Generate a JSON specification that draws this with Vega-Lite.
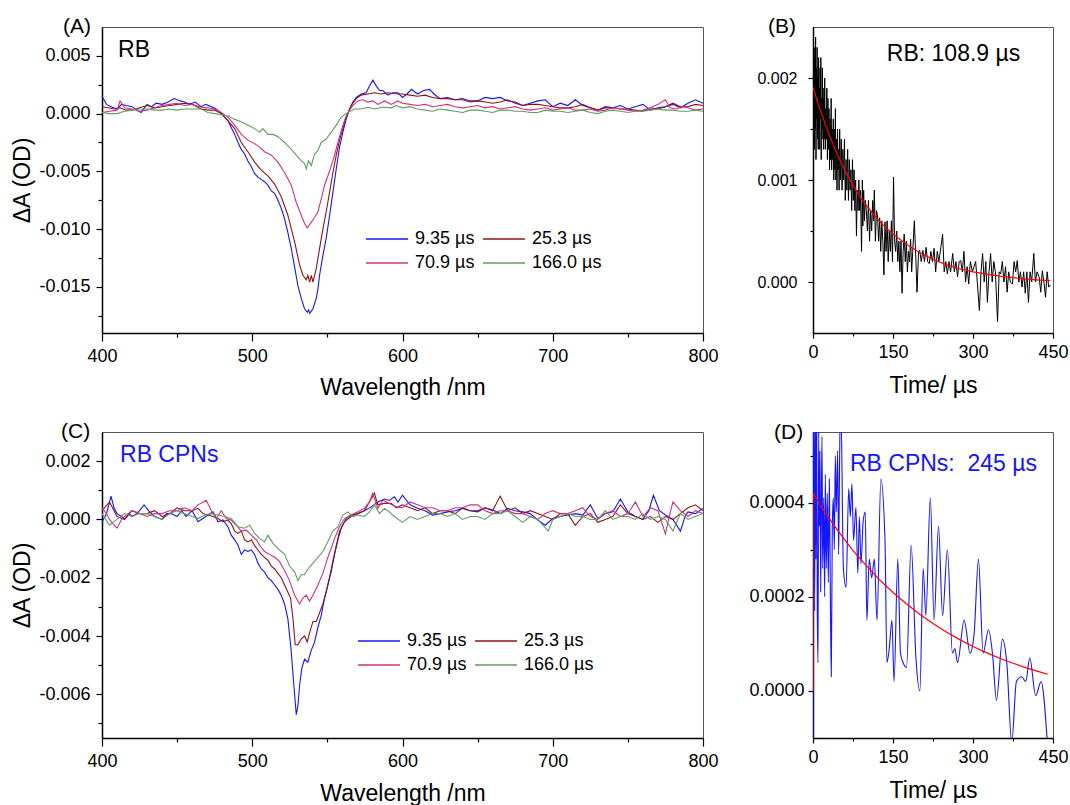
{
  "$schema": "https://vega.github.io/schema/vega-lite/v6.json",
  "background": "white",
  "padding": {"left": 11, "top": 15, "right": 0, "bottom": 0},
  "columns": 2,
  "bounds": "flush",
  "spacing": {"row": 99, "column": 110},
  "resolve": {"scale": {"color": "independent"}},
  "config": {
    "locale": {"number": {"decimal": ".", "thousands": ",", "grouping": [3], "currency": ["$", ""], "minus": "-"}},
    "view": {"stroke": "#555", "strokeWidth": 1},
    "axis": {"grid": false, "domainColor": "#000", "domainWidth": 1.5, "tickColor": "#000", "tickWidth": 1.2, "labelColor": "#000", "titleColor": "#000", "labelFont": "Liberation Sans", "titleFont": "Liberation Sans", "labelFontSize": 18, "titleFontSize": 23, "titleFontWeight": "normal", "labelFlush": false, "labelOverlap": false, "labelBound": false, "tickCount": 30},
    "legend": {"orient": "none", "columns": 2, "direction": "horizontal", "symbolType": "M-4,0H4", "symbolSize": 110, "symbolStrokeWidth": 1.5, "labelFont": "Liberation Sans", "labelFontSize": 18, "labelColor": "#000", "columnPadding": 5, "rowPadding": 6, "labelOffset": 19, "padding": 0},
    "title": {"font": "Liberation Sans", "fontSize": 21, "fontWeight": "normal", "anchor": "start", "frame": "group", "baseline": "alphabetic", "offset": 0, "dy": 14, "color": "#000"},
    "text": {"font": "Liberation Sans"}
  },
  "datasets": {
    "A": [
      {"s":"9.35 µs","x":400,"y":0.0015},{"s":"9.35 µs","x":403,"y":0.0008},{"s":"9.35 µs","x":406,"y":0.0006},{"s":"9.35 µs","x":410,"y":0.0004},{"s":"9.35 µs","x":413,"y":0.0008},{"s":"9.35 µs","x":416,"y":0.0007},{"s":"9.35 µs","x":420,"y":0.0006},{"s":"9.35 µs","x":423,"y":0.0003},{"s":"9.35 µs","x":426,"y":0.0001},{"s":"9.35 µs","x":430,"y":0.0008},{"s":"9.35 µs","x":433,"y":0.0006},{"s":"9.35 µs","x":436,"y":0.0009},{"s":"9.35 µs","x":440,"y":0.0008},{"s":"9.35 µs","x":444,"y":0.001},{"s":"9.35 µs","x":448,"y":0.0013},{"s":"9.35 µs","x":452,"y":0.0011},{"s":"9.35 µs","x":455,"y":0.001},{"s":"9.35 µs","x":458,"y":0.0008},{"s":"9.35 µs","x":462,"y":0.001},{"s":"9.35 µs","x":466,"y":0.0006},{"s":"9.35 µs","x":469,"y":0.0008},{"s":"9.35 µs","x":473,"y":0.0006},{"s":"9.35 µs","x":476,"y":0.0004},{"s":"9.35 µs","x":479.4,"y":0.0},{"s":"9.35 µs","x":481.5,"y":-0.0003},{"s":"9.35 µs","x":483.8,"y":-0.0006},{"s":"9.35 µs","x":486,"y":-0.0012},{"s":"9.35 µs","x":488.3,"y":-0.0018},{"s":"9.35 µs","x":490.5,"y":-0.0025},{"s":"9.35 µs","x":492.7,"y":-0.0031},{"s":"9.35 µs","x":494.9,"y":-0.0035},{"s":"9.35 µs","x":497.1,"y":-0.0041},{"s":"9.35 µs","x":499.4,"y":-0.0046},{"s":"9.35 µs","x":501.6,"y":-0.0052},{"s":"9.35 µs","x":503.8,"y":-0.0055},{"s":"9.35 µs","x":506,"y":-0.0057},{"s":"9.35 µs","x":508.2,"y":-0.0059},{"s":"9.35 µs","x":510.4,"y":-0.0062},{"s":"9.35 µs","x":512.7,"y":-0.0067},{"s":"9.35 µs","x":514.9,"y":-0.0069},{"s":"9.35 µs","x":517.1,"y":-0.0075},{"s":"9.35 µs","x":519.3,"y":-0.0082},{"s":"9.35 µs","x":521.5,"y":-0.0091},{"s":"9.35 µs","x":523.7,"y":-0.0103},{"s":"9.35 µs","x":526,"y":-0.0117},{"s":"9.35 µs","x":528.2,"y":-0.0133},{"s":"9.35 µs","x":530.4,"y":-0.0149},{"s":"9.35 µs","x":532.6,"y":-0.016},{"s":"9.35 µs","x":534.8,"y":-0.0169},{"s":"9.35 µs","x":536.6,"y":-0.0172},{"s":"9.35 µs","x":537.5,"y":-0.017},{"s":"9.35 µs","x":538.2,"y":-0.0173},{"s":"9.35 µs","x":539.3,"y":-0.0171},{"s":"9.35 µs","x":540.4,"y":-0.0169},{"s":"9.35 µs","x":542.6,"y":-0.016},{"s":"9.35 µs","x":543.7,"y":-0.0152},{"s":"9.35 µs","x":544.8,"y":-0.014},{"s":"9.35 µs","x":547,"y":-0.0123},{"s":"9.35 µs","x":549.2,"y":-0.0108},{"s":"9.35 µs","x":551.5,"y":-0.0088},{"s":"9.35 µs","x":553.7,"y":-0.0068},{"s":"9.35 µs","x":555.9,"y":-0.0048},{"s":"9.35 µs","x":558.1,"y":-0.0029},{"s":"9.35 µs","x":560.3,"y":-0.0016},{"s":"9.35 µs","x":562.5,"y":-0.0005},{"s":"9.35 µs","x":564.8,"y":0.0004},{"s":"9.35 µs","x":567,"y":0.001},{"s":"9.35 µs","x":569.2,"y":0.0014},{"s":"9.35 µs","x":572.5,"y":0.0017},{"s":"9.35 µs","x":575.8,"y":0.0018},{"s":"9.35 µs","x":578,"y":0.0024},{"s":"9.35 µs","x":580.3,"y":0.0029},{"s":"9.35 µs","x":582.5,"y":0.0024},{"s":"9.35 µs","x":584.7,"y":0.002},{"s":"9.35 µs","x":586.9,"y":0.002},{"s":"9.35 µs","x":590.2,"y":0.0016},{"s":"9.35 µs","x":593.6,"y":0.0018},{"s":"9.35 µs","x":596.9,"y":0.0018},{"s":"9.35 µs","x":600,"y":0.0014},{"s":"9.35 µs","x":603,"y":0.0017},{"s":"9.35 µs","x":606,"y":0.0021},{"s":"9.35 µs","x":610,"y":0.0017},{"s":"9.35 µs","x":614,"y":0.002},{"s":"9.35 µs","x":618,"y":0.0021},{"s":"9.35 µs","x":621,"y":0.0017},{"s":"9.35 µs","x":625,"y":0.0013},{"s":"9.35 µs","x":630,"y":0.0014},{"s":"9.35 µs","x":635,"y":0.0012},{"s":"9.35 µs","x":640,"y":0.0013},{"s":"9.35 µs","x":645,"y":0.0011},{"s":"9.35 µs","x":650,"y":0.0011},{"s":"9.35 µs","x":655,"y":0.0014},{"s":"9.35 µs","x":660,"y":0.0013},{"s":"9.35 µs","x":665,"y":0.0014},{"s":"9.35 µs","x":670,"y":0.0011},{"s":"9.35 µs","x":675,"y":0.001},{"s":"9.35 µs","x":680,"y":0.0007},{"s":"9.35 µs","x":685,"y":0.0009},{"s":"9.35 µs","x":690,"y":0.0011},{"s":"9.35 µs","x":695,"y":0.0012},{"s":"9.35 µs","x":700,"y":0.0006},{"s":"9.35 µs","x":705,"y":0.0009},{"s":"9.35 µs","x":710,"y":0.0007},{"s":"9.35 µs","x":715,"y":0.0012},{"s":"9.35 µs","x":720,"y":0.0007},{"s":"9.35 µs","x":725,"y":0.0005},{"s":"9.35 µs","x":730,"y":0.0003},{"s":"9.35 µs","x":735,"y":0.0006},{"s":"9.35 µs","x":740,"y":0.0005},{"s":"9.35 µs","x":745,"y":0.0007},{"s":"9.35 µs","x":750,"y":0.0004},{"s":"9.35 µs","x":755,"y":0.0006},{"s":"9.35 µs","x":760,"y":0.0008},{"s":"9.35 µs","x":765,"y":0.0003},{"s":"9.35 µs","x":770,"y":0.0005},{"s":"9.35 µs","x":775,"y":0.0006},{"s":"9.35 µs","x":780,"y":0.0008},{"s":"9.35 µs","x":785,"y":0.0005},{"s":"9.35 µs","x":790,"y":0.0009},{"s":"9.35 µs","x":795,"y":0.0012},{"s":"9.35 µs","x":800,"y":0.0009},
      {"s":"25.3 µs","x":400,"y":0.0006},{"s":"25.3 µs","x":404,"y":0.0005},{"s":"25.3 µs","x":408,"y":0.0004},{"s":"25.3 µs","x":412,"y":0.0005},{"s":"25.3 µs","x":416,"y":0.0003},{"s":"25.3 µs","x":420,"y":0.0003},{"s":"25.3 µs","x":425,"y":0.0005},{"s":"25.3 µs","x":430,"y":0.0007},{"s":"25.3 µs","x":435,"y":0.0005},{"s":"25.3 µs","x":440,"y":0.0006},{"s":"25.3 µs","x":445,"y":0.0007},{"s":"25.3 µs","x":450,"y":0.0008},{"s":"25.3 µs","x":455,"y":0.0009},{"s":"25.3 µs","x":460,"y":0.0008},{"s":"25.3 µs","x":466,"y":0.0004},{"s":"25.3 µs","x":471,"y":0.0003},{"s":"25.3 µs","x":475,"y":0.0003},{"s":"25.3 µs","x":479.4,"y":0.0},{"s":"25.3 µs","x":483.8,"y":-0.0006},{"s":"25.3 µs","x":488.3,"y":-0.0013},{"s":"25.3 µs","x":492.7,"y":-0.0025},{"s":"25.3 µs","x":497.1,"y":-0.0033},{"s":"25.3 µs","x":501.6,"y":-0.0042},{"s":"25.3 µs","x":506,"y":-0.0049},{"s":"25.3 µs","x":510.4,"y":-0.0054},{"s":"25.3 µs","x":514.9,"y":-0.0061},{"s":"25.3 µs","x":519.3,"y":-0.0072},{"s":"25.3 µs","x":523.7,"y":-0.0088},{"s":"25.3 µs","x":528.2,"y":-0.0111},{"s":"25.3 µs","x":531.5,"y":-0.0131},{"s":"25.3 µs","x":533.7,"y":-0.014},{"s":"25.3 µs","x":535.9,"y":-0.0144},{"s":"25.3 µs","x":537,"y":-0.014},{"s":"25.3 µs","x":538.2,"y":-0.0146},{"s":"25.3 µs","x":539.3,"y":-0.014},{"s":"25.3 µs","x":540.4,"y":-0.0146},{"s":"25.3 µs","x":542.6,"y":-0.0134},{"s":"25.3 µs","x":544.8,"y":-0.0117},{"s":"25.3 µs","x":547,"y":-0.01},{"s":"25.3 µs","x":549.2,"y":-0.0085},{"s":"25.3 µs","x":551.5,"y":-0.0068},{"s":"25.3 µs","x":553.7,"y":-0.0051},{"s":"25.3 µs","x":555.9,"y":-0.0036},{"s":"25.3 µs","x":558.1,"y":-0.0023},{"s":"25.3 µs","x":560.3,"y":-0.0013},{"s":"25.3 µs","x":562.5,"y":-0.0003},{"s":"25.3 µs","x":565.9,"y":0.0007},{"s":"25.3 µs","x":569.2,"y":0.0013},{"s":"25.3 µs","x":572.5,"y":0.0016},{"s":"25.3 µs","x":576.9,"y":0.0017},{"s":"25.3 µs","x":581.4,"y":0.0018},{"s":"25.3 µs","x":585.8,"y":0.0017},{"s":"25.3 µs","x":590.2,"y":0.0018},{"s":"25.3 µs","x":596.9,"y":0.0017},{"s":"25.3 µs","x":600,"y":0.0017},{"s":"25.3 µs","x":605,"y":0.0016},{"s":"25.3 µs","x":610,"y":0.0015},{"s":"25.3 µs","x":615,"y":0.0016},{"s":"25.3 µs","x":620,"y":0.0014},{"s":"25.3 µs","x":625,"y":0.0013},{"s":"25.3 µs","x":630,"y":0.0013},{"s":"25.3 µs","x":635,"y":0.0012},{"s":"25.3 µs","x":640,"y":0.0012},{"s":"25.3 µs","x":645,"y":0.001},{"s":"25.3 µs","x":650,"y":0.0011},{"s":"25.3 µs","x":655,"y":0.001},{"s":"25.3 µs","x":660,"y":0.0009},{"s":"25.3 µs","x":665,"y":0.001},{"s":"25.3 µs","x":670,"y":0.0012},{"s":"25.3 µs","x":675,"y":0.0009},{"s":"25.3 µs","x":680,"y":0.0007},{"s":"25.3 µs","x":685,"y":0.0008},{"s":"25.3 µs","x":690,"y":0.0008},{"s":"25.3 µs","x":695,"y":0.0007},{"s":"25.3 µs","x":700,"y":0.0006},{"s":"25.3 µs","x":705,"y":0.0005},{"s":"25.3 µs","x":710,"y":0.0005},{"s":"25.3 µs","x":715,"y":0.0006},{"s":"25.3 µs","x":720,"y":0.0008},{"s":"25.3 µs","x":725,"y":0.0005},{"s":"25.3 µs","x":730,"y":0.0003},{"s":"25.3 µs","x":735,"y":0.0005},{"s":"25.3 µs","x":740,"y":0.0005},{"s":"25.3 µs","x":745,"y":0.0004},{"s":"25.3 µs","x":750,"y":0.0004},{"s":"25.3 µs","x":755,"y":0.0003},{"s":"25.3 µs","x":760,"y":0.0002},{"s":"25.3 µs","x":765,"y":0.0005},{"s":"25.3 µs","x":770,"y":0.0004},{"s":"25.3 µs","x":775,"y":0.0006},{"s":"25.3 µs","x":780,"y":0.0009},{"s":"25.3 µs","x":785,"y":0.0006},{"s":"25.3 µs","x":790,"y":0.0006},{"s":"25.3 µs","x":795,"y":0.0008},{"s":"25.3 µs","x":800,"y":0.0007},
      {"s":"70.9 µs","x":400,"y":0.0001},{"s":"70.9 µs","x":405,"y":0.0002},{"s":"70.9 µs","x":410,"y":0.0003},{"s":"70.9 µs","x":412,"y":0.0011},{"s":"70.9 µs","x":415,"y":0.0005},{"s":"70.9 µs","x":420,"y":0.0004},{"s":"70.9 µs","x":425,"y":0.0002},{"s":"70.9 µs","x":430,"y":0.0003},{"s":"70.9 µs","x":435,"y":0.0005},{"s":"70.9 µs","x":440,"y":0.0007},{"s":"70.9 µs","x":445,"y":0.0008},{"s":"70.9 µs","x":450,"y":0.0009},{"s":"70.9 µs","x":455,"y":0.0007},{"s":"70.9 µs","x":460,"y":0.0008},{"s":"70.9 µs","x":466,"y":0.00055},{"s":"70.9 µs","x":471,"y":0.0005},{"s":"70.9 µs","x":475,"y":0.0004},{"s":"70.9 µs","x":479.4,"y":0.0001},{"s":"70.9 µs","x":483.8,"y":-0.0003},{"s":"70.9 µs","x":488.3,"y":-0.001},{"s":"70.9 µs","x":492.7,"y":-0.0018},{"s":"70.9 µs","x":497.1,"y":-0.0023},{"s":"70.9 µs","x":501.6,"y":-0.0026},{"s":"70.9 µs","x":504.9,"y":-0.0029},{"s":"70.9 µs","x":508.2,"y":-0.0033},{"s":"70.9 µs","x":512.7,"y":-0.0036},{"s":"70.9 µs","x":517.1,"y":-0.0042},{"s":"70.9 µs","x":521.5,"y":-0.0051},{"s":"70.9 µs","x":526,"y":-0.0062},{"s":"70.9 µs","x":529.3,"y":-0.0077},{"s":"70.9 µs","x":532.6,"y":-0.0088},{"s":"70.9 µs","x":534.8,"y":-0.0095},{"s":"70.9 µs","x":536.6,"y":-0.0099},{"s":"70.9 µs","x":539.3,"y":-0.0094},{"s":"70.9 µs","x":541.5,"y":-0.009},{"s":"70.9 µs","x":543.7,"y":-0.0085},{"s":"70.9 µs","x":545.9,"y":-0.0074},{"s":"70.9 µs","x":548.1,"y":-0.0062},{"s":"70.9 µs","x":550.3,"y":-0.0054},{"s":"70.9 µs","x":552.6,"y":-0.0045},{"s":"70.9 µs","x":554.8,"y":-0.0036},{"s":"70.9 µs","x":557,"y":-0.0025},{"s":"70.9 µs","x":559.2,"y":-0.0015},{"s":"70.9 µs","x":561.4,"y":-0.0006},{"s":"70.9 µs","x":563.6,"y":0.0001},{"s":"70.9 µs","x":567,"y":0.0007},{"s":"70.9 µs","x":570.3,"y":0.0011},{"s":"70.9 µs","x":573.6,"y":0.0012},{"s":"70.9 µs","x":577,"y":0.001},{"s":"70.9 µs","x":580.3,"y":0.0011},{"s":"70.9 µs","x":583.6,"y":0.0008},{"s":"70.9 µs","x":588,"y":0.0011},{"s":"70.9 µs","x":592.5,"y":0.0008},{"s":"70.9 µs","x":596.9,"y":0.0011},{"s":"70.9 µs","x":600,"y":0.0009},{"s":"70.9 µs","x":605,"y":0.0008},{"s":"70.9 µs","x":610,"y":0.0007},{"s":"70.9 µs","x":615,"y":0.0008},{"s":"70.9 µs","x":620,"y":0.0006},{"s":"70.9 µs","x":625,"y":0.0007},{"s":"70.9 µs","x":630,"y":0.0008},{"s":"70.9 µs","x":635,"y":0.0006},{"s":"70.9 µs","x":640,"y":0.0005},{"s":"70.9 µs","x":645,"y":0.0006},{"s":"70.9 µs","x":650,"y":0.0007},{"s":"70.9 µs","x":655,"y":0.0005},{"s":"70.9 µs","x":660,"y":0.0006},{"s":"70.9 µs","x":665,"y":0.0004},{"s":"70.9 µs","x":670,"y":0.0005},{"s":"70.9 µs","x":675,"y":0.0006},{"s":"70.9 µs","x":680,"y":0.0004},{"s":"70.9 µs","x":685,"y":0.0003},{"s":"70.9 µs","x":690,"y":0.0004},{"s":"70.9 µs","x":695,"y":0.0005},{"s":"70.9 µs","x":700,"y":0.0003},{"s":"70.9 µs","x":705,"y":0.0004},{"s":"70.9 µs","x":710,"y":0.0005},{"s":"70.9 µs","x":715,"y":0.0003},{"s":"70.9 µs","x":720,"y":0.0003},{"s":"70.9 µs","x":725,"y":0.0004},{"s":"70.9 µs","x":730,"y":0.0002},{"s":"70.9 µs","x":735,"y":0.0003},{"s":"70.9 µs","x":740,"y":0.0005},{"s":"70.9 µs","x":745,"y":0.0004},{"s":"70.9 µs","x":750,"y":0.0003},{"s":"70.9 µs","x":755,"y":0.0002},{"s":"70.9 µs","x":760,"y":0.0003},{"s":"70.9 µs","x":765,"y":0.0005},{"s":"70.9 µs","x":770,"y":0.0008},{"s":"70.9 µs","x":775,"y":0.0012},{"s":"70.9 µs","x":778,"y":0.0005},{"s":"70.9 µs","x":782,"y":0.0004},{"s":"70.9 µs","x":786,"y":0.0006},{"s":"70.9 µs","x":790,"y":0.0005},{"s":"70.9 µs","x":795,"y":0.0003},{"s":"70.9 µs","x":800,"y":0.0004},
      {"s":"166.0 µs","x":400,"y":0.0001},{"s":"166.0 µs","x":405,"y":0.0},{"s":"166.0 µs","x":410,"y":0.0},{"s":"166.0 µs","x":415,"y":0.0002},{"s":"166.0 µs","x":420,"y":0.0003},{"s":"166.0 µs","x":425,"y":0.0004},{"s":"166.0 µs","x":430,"y":0.0004},{"s":"166.0 µs","x":435,"y":0.0003},{"s":"166.0 µs","x":440,"y":0.0003},{"s":"166.0 µs","x":445,"y":0.0004},{"s":"166.0 µs","x":450,"y":0.0003},{"s":"166.0 µs","x":455,"y":0.0004},{"s":"166.0 µs","x":460,"y":0.0004},{"s":"166.0 µs","x":466,"y":0.0004},{"s":"166.0 µs","x":470.5,"y":0.0001},{"s":"166.0 µs","x":475,"y":0.0},{"s":"166.0 µs","x":479.4,"y":-0.0001},{"s":"166.0 µs","x":483.8,"y":-0.0002},{"s":"166.0 µs","x":488.3,"y":-0.0005},{"s":"166.0 µs","x":492.7,"y":-0.0007},{"s":"166.0 µs","x":497.1,"y":-0.001},{"s":"166.0 µs","x":501.6,"y":-0.0013},{"s":"166.0 µs","x":504.9,"y":-0.0016},{"s":"166.0 µs","x":507.1,"y":-0.0013},{"s":"166.0 µs","x":510.4,"y":-0.0018},{"s":"166.0 µs","x":513.8,"y":-0.0018},{"s":"166.0 µs","x":517.1,"y":-0.002},{"s":"166.0 µs","x":521.5,"y":-0.0025},{"s":"166.0 µs","x":526,"y":-0.0031},{"s":"166.0 µs","x":529.3,"y":-0.0036},{"s":"166.0 µs","x":532.6,"y":-0.0041},{"s":"166.0 µs","x":534.8,"y":-0.0043},{"s":"166.0 µs","x":535.9,"y":-0.0048},{"s":"166.0 µs","x":537.5,"y":-0.0041},{"s":"166.0 µs","x":539.3,"y":-0.0045},{"s":"166.0 µs","x":541.5,"y":-0.0035},{"s":"166.0 µs","x":543.7,"y":-0.0032},{"s":"166.0 µs","x":545.9,"y":-0.0025},{"s":"166.0 µs","x":549.2,"y":-0.0022},{"s":"166.0 µs","x":552.6,"y":-0.0016},{"s":"166.0 µs","x":555.9,"y":-0.001},{"s":"166.0 µs","x":559.2,"y":-0.0003},{"s":"166.0 µs","x":563.6,"y":0.0001},{"s":"166.0 µs","x":568.1,"y":0.0004},{"s":"166.0 µs","x":572.5,"y":0.0004},{"s":"166.0 µs","x":577,"y":0.00055},{"s":"166.0 µs","x":581.4,"y":0.0004},{"s":"166.0 µs","x":586.9,"y":0.00055},{"s":"166.0 µs","x":592.5,"y":0.0005},{"s":"166.0 µs","x":595.8,"y":0.0007},{"s":"166.0 µs","x":600,"y":0.0005},{"s":"166.0 µs","x":605,"y":0.0006},{"s":"166.0 µs","x":610,"y":0.0004},{"s":"166.0 µs","x":615,"y":0.0003},{"s":"166.0 µs","x":620,"y":0.0002},{"s":"166.0 µs","x":625,"y":0.0004},{"s":"166.0 µs","x":630,"y":0.0003},{"s":"166.0 µs","x":635,"y":0.0002},{"s":"166.0 µs","x":640,"y":0.0001},{"s":"166.0 µs","x":645,"y":0.0003},{"s":"166.0 µs","x":650,"y":0.0003},{"s":"166.0 µs","x":655,"y":0.0002},{"s":"166.0 µs","x":660,"y":0.0001},{"s":"166.0 µs","x":665,"y":0.0003},{"s":"166.0 µs","x":670,"y":0.0003},{"s":"166.0 µs","x":675,"y":0.0002},{"s":"166.0 µs","x":680,"y":0.0002},{"s":"166.0 µs","x":685,"y":0.0001},{"s":"166.0 µs","x":690,"y":0.0001},{"s":"166.0 µs","x":695,"y":0.0003},{"s":"166.0 µs","x":700,"y":0.0002},{"s":"166.0 µs","x":705,"y":0.0002},{"s":"166.0 µs","x":710,"y":0.0001},{"s":"166.0 µs","x":715,"y":0.0002},{"s":"166.0 µs","x":720,"y":0.0003},{"s":"166.0 µs","x":725,"y":0.0001},{"s":"166.0 µs","x":730,"y":0.0},{"s":"166.0 µs","x":735,"y":0.0002},{"s":"166.0 µs","x":740,"y":0.0003},{"s":"166.0 µs","x":745,"y":0.0002},{"s":"166.0 µs","x":750,"y":0.0001},{"s":"166.0 µs","x":755,"y":0.0002},{"s":"166.0 µs","x":760,"y":0.0002},{"s":"166.0 µs","x":765,"y":0.0003},{"s":"166.0 µs","x":770,"y":0.0004},{"s":"166.0 µs","x":775,"y":0.0003},{"s":"166.0 µs","x":780,"y":0.0003},{"s":"166.0 µs","x":785,"y":0.0002},{"s":"166.0 µs","x":790,"y":0.0002},{"s":"166.0 µs","x":795,"y":0.0003},{"s":"166.0 µs","x":800,"y":0.0002}
    ],
    "C": [
      {"s":"9.35 µs","x":400,"y":-0.0001},{"s":"9.35 µs","x":403,"y":0.0002},{"s":"9.35 µs","x":406,"y":0.0008},{"s":"9.35 µs","x":408,"y":0.0004},{"s":"9.35 µs","x":410,"y":0.0002},{"s":"9.35 µs","x":413,"y":0.0001},{"s":"9.35 µs","x":415,"y":0.0},{"s":"9.35 µs","x":418,"y":0.0002},{"s":"9.35 µs","x":420,"y":0.0001},{"s":"9.35 µs","x":423,"y":0.0002},{"s":"9.35 µs","x":425,"y":0.0003},{"s":"9.35 µs","x":428,"y":0.0005},{"s":"9.35 µs","x":431,"y":0.0003},{"s":"9.35 µs","x":435,"y":0.0001},{"s":"9.35 µs","x":440,"y":0.0},{"s":"9.35 µs","x":443,"y":0.0002},{"s":"9.35 µs","x":446,"y":0.0002},{"s":"9.35 µs","x":450,"y":0.0001},{"s":"9.35 µs","x":453,"y":0.0003},{"s":"9.35 µs","x":456,"y":0.0001},{"s":"9.35 µs","x":460,"y":0.0003},{"s":"9.35 µs","x":463.9,"y":-0.00008},{"s":"9.35 µs","x":467.2,"y":0.00003},{"s":"9.35 µs","x":470.5,"y":0.00015},{"s":"9.35 µs","x":473.9,"y":0.00026},{"s":"9.35 µs","x":477.2,"y":-0.00008},{"s":"9.35 µs","x":480.5,"y":-0.00002},{"s":"9.35 µs","x":483.8,"y":-0.00025},{"s":"9.35 µs","x":486,"y":-0.00054},{"s":"9.35 µs","x":488.3,"y":-0.0007},{"s":"9.35 µs","x":490.5,"y":-0.00088},{"s":"9.35 µs","x":492.7,"y":-0.0012},{"s":"9.35 µs","x":494.9,"y":-0.00105},{"s":"9.35 µs","x":497.1,"y":-0.0011},{"s":"9.35 µs","x":499.4,"y":-0.00105},{"s":"9.35 µs","x":501.6,"y":-0.0012},{"s":"9.35 µs","x":503.8,"y":-0.0015},{"s":"9.35 µs","x":506,"y":-0.0017},{"s":"9.35 µs","x":508.2,"y":-0.0018},{"s":"9.35 µs","x":510.4,"y":-0.002},{"s":"9.35 µs","x":512.7,"y":-0.0021},{"s":"9.35 µs","x":514.9,"y":-0.00225},{"s":"9.35 µs","x":517.1,"y":-0.0024},{"s":"9.35 µs","x":519.3,"y":-0.0026},{"s":"9.35 µs","x":521.5,"y":-0.0029},{"s":"9.35 µs","x":523.7,"y":-0.0034},{"s":"9.35 µs","x":525.9,"y":-0.0045},{"s":"9.35 µs","x":527.7,"y":-0.0057},{"s":"9.35 µs","x":529.3,"y":-0.0067},{"s":"9.35 µs","x":530.4,"y":-0.0064},{"s":"9.35 µs","x":531.5,"y":-0.0057},{"s":"9.35 µs","x":533,"y":-0.0051},{"s":"9.35 µs","x":534.8,"y":-0.0048},{"s":"9.35 µs","x":537,"y":-0.0049},{"s":"9.35 µs","x":539.2,"y":-0.0045},{"s":"9.35 µs","x":541.5,"y":-0.0042},{"s":"9.35 µs","x":543.7,"y":-0.0037},{"s":"9.35 µs","x":545.9,"y":-0.0033},{"s":"9.35 µs","x":548.1,"y":-0.0027},{"s":"9.35 µs","x":550.3,"y":-0.00225},{"s":"9.35 µs","x":552.5,"y":-0.0018},{"s":"9.35 µs","x":554.8,"y":-0.0012},{"s":"9.35 µs","x":557,"y":-0.0007},{"s":"9.35 µs","x":559.2,"y":-0.0003},{"s":"9.35 µs","x":562.5,"y":0.00003},{"s":"9.35 µs","x":565.8,"y":0.00015},{"s":"9.35 µs","x":570.3,"y":0.0002},{"s":"9.35 µs","x":574.7,"y":0.0003},{"s":"9.35 µs","x":579.1,"y":0.00043},{"s":"9.35 µs","x":583.6,"y":0.0006},{"s":"9.35 µs","x":588,"y":0.0007},{"s":"9.35 µs","x":591.3,"y":0.00065},{"s":"9.35 µs","x":594.6,"y":0.00078},{"s":"9.35 µs","x":597,"y":0.0006},{"s":"9.35 µs","x":600,"y":0.00083},{"s":"9.35 µs","x":605,"y":0.0005},{"s":"9.35 µs","x":610,"y":0.00038},{"s":"9.35 µs","x":615,"y":0.0003},{"s":"9.35 µs","x":620,"y":0.00015},{"s":"9.35 µs","x":625,"y":0.0002},{"s":"9.35 µs","x":630,"y":0.00026},{"s":"9.35 µs","x":635,"y":0.0003},{"s":"9.35 µs","x":640,"y":0.00038},{"s":"9.35 µs","x":645,"y":0.0003},{"s":"9.35 µs","x":650,"y":0.00026},{"s":"9.35 µs","x":655,"y":0.0004},{"s":"9.35 µs","x":660,"y":0.00032},{"s":"9.35 µs","x":665,"y":0.0002},{"s":"9.35 µs","x":670,"y":0.00038},{"s":"9.35 µs","x":675,"y":0.0003},{"s":"9.35 µs","x":680,"y":0.00026},{"s":"9.35 µs","x":685,"y":0.0002},{"s":"9.35 µs","x":690,"y":-0.00002},{"s":"9.35 µs","x":695,"y":-0.0002},{"s":"9.35 µs","x":700,"y":0.00003},{"s":"9.35 µs","x":705,"y":0.0001},{"s":"9.35 µs","x":710,"y":0.00015},{"s":"9.35 µs","x":715,"y":0.0002},{"s":"9.35 µs","x":720,"y":0.00015},{"s":"9.35 µs","x":725,"y":0.0005},{"s":"9.35 µs","x":730,"y":0.00003},{"s":"9.35 µs","x":735,"y":0.0002},{"s":"9.35 µs","x":740,"y":0.00026},{"s":"9.35 µs","x":745,"y":0.0007},{"s":"9.35 µs","x":750,"y":0.00026},{"s":"9.35 µs","x":755,"y":0.0001},{"s":"9.35 µs","x":760,"y":0.0},{"s":"9.35 µs","x":764,"y":0.0003},{"s":"9.35 µs","x":767,"y":0.00083},{"s":"9.35 µs","x":771,"y":0.0003},{"s":"9.35 µs","x":775,"y":0.00015},{"s":"9.35 µs","x":780,"y":0.0},{"s":"9.35 µs","x":785,"y":-0.0004},{"s":"9.35 µs","x":788,"y":0.0001},{"s":"9.35 µs","x":790,"y":0.00026},{"s":"9.35 µs","x":795,"y":0.0002},{"s":"9.35 µs","x":800,"y":0.00038},
      {"s":"25.3 µs","x":400,"y":0.0003},{"s":"25.3 µs","x":405,"y":0.0006},{"s":"25.3 µs","x":408,"y":0.0003},{"s":"25.3 µs","x":410,"y":0.0001},{"s":"25.3 µs","x":415,"y":0.0},{"s":"25.3 µs","x":420,"y":0.0003},{"s":"25.3 µs","x":425,"y":0.0002},{"s":"25.3 µs","x":430,"y":0.0002},{"s":"25.3 µs","x":435,"y":0.0003},{"s":"25.3 µs","x":440,"y":0.0001},{"s":"25.3 µs","x":445,"y":0.0002},{"s":"25.3 µs","x":450,"y":0.0004},{"s":"25.3 µs","x":455,"y":0.0003},{"s":"25.3 µs","x":460,"y":0.0003},{"s":"25.3 µs","x":463.9,"y":0.00038},{"s":"25.3 µs","x":467.2,"y":0.0002},{"s":"25.3 µs","x":470.5,"y":0.00015},{"s":"25.3 µs","x":473.9,"y":0.0001},{"s":"25.3 µs","x":477.2,"y":0.00003},{"s":"25.3 µs","x":480.5,"y":-0.00008},{"s":"25.3 µs","x":483.8,"y":-0.00002},{"s":"25.3 µs","x":486,"y":-0.00014},{"s":"25.3 µs","x":488.3,"y":-0.0004},{"s":"25.3 µs","x":490.5,"y":-0.00048},{"s":"25.3 µs","x":492.7,"y":-0.0004},{"s":"25.3 µs","x":494.9,"y":-0.0007},{"s":"25.3 µs","x":497.1,"y":-0.00077},{"s":"25.3 µs","x":499.4,"y":-0.0007},{"s":"25.3 µs","x":501.6,"y":-0.0009},{"s":"25.3 µs","x":503.8,"y":-0.00105},{"s":"25.3 µs","x":506,"y":-0.0012},{"s":"25.3 µs","x":508.2,"y":-0.0013},{"s":"25.3 µs","x":510.4,"y":-0.0014},{"s":"25.3 µs","x":512.7,"y":-0.0016},{"s":"25.3 µs","x":514.9,"y":-0.0017},{"s":"25.3 µs","x":517.1,"y":-0.00185},{"s":"25.3 µs","x":519.3,"y":-0.002},{"s":"25.3 µs","x":521.5,"y":-0.00225},{"s":"25.3 µs","x":523.7,"y":-0.0025},{"s":"25.3 µs","x":525.5,"y":-0.0027},{"s":"25.3 µs","x":527.1,"y":-0.0034},{"s":"25.3 µs","x":528.6,"y":-0.0043},{"s":"25.3 µs","x":530.4,"y":-0.0043},{"s":"25.3 µs","x":532.6,"y":-0.0041},{"s":"25.3 µs","x":534.8,"y":-0.004},{"s":"25.3 µs","x":536.6,"y":-0.0042},{"s":"25.3 µs","x":538.1,"y":-0.0039},{"s":"25.3 µs","x":540.4,"y":-0.0035},{"s":"25.3 µs","x":542.6,"y":-0.0035},{"s":"25.3 µs","x":544.8,"y":-0.0032},{"s":"25.3 µs","x":547,"y":-0.0029},{"s":"25.3 µs","x":549.2,"y":-0.0025},{"s":"25.3 µs","x":551.4,"y":-0.002},{"s":"25.3 µs","x":553.6,"y":-0.00145},{"s":"25.3 µs","x":555.9,"y":-0.0009},{"s":"25.3 µs","x":558.1,"y":-0.0004},{"s":"25.3 µs","x":561.4,"y":-0.00008},{"s":"25.3 µs","x":565.8,"y":0.0001},{"s":"25.3 µs","x":570.3,"y":0.0002},{"s":"25.3 µs","x":574.7,"y":0.0003},{"s":"25.3 µs","x":579.1,"y":0.0007},{"s":"25.3 µs","x":581.3,"y":0.0009},{"s":"25.3 µs","x":583.6,"y":0.0005},{"s":"25.3 µs","x":588,"y":0.00055},{"s":"25.3 µs","x":592.4,"y":0.00055},{"s":"25.3 µs","x":596,"y":0.0004},{"s":"25.3 µs","x":600,"y":0.0005},{"s":"25.3 µs","x":605,"y":0.0004},{"s":"25.3 µs","x":610,"y":0.0003},{"s":"25.3 µs","x":615,"y":0.0004},{"s":"25.3 µs","x":620,"y":0.0002},{"s":"25.3 µs","x":625,"y":0.0003},{"s":"25.3 µs","x":630,"y":0.0003},{"s":"25.3 µs","x":635,"y":0.0002},{"s":"25.3 µs","x":640,"y":0.0004},{"s":"25.3 µs","x":645,"y":0.0003},{"s":"25.3 µs","x":650,"y":0.0003},{"s":"25.3 µs","x":655,"y":0.0004},{"s":"25.3 µs","x":660,"y":0.0003},{"s":"25.3 µs","x":665,"y":0.0008},{"s":"25.3 µs","x":670,"y":0.0003},{"s":"25.3 µs","x":675,"y":0.0004},{"s":"25.3 µs","x":680,"y":0.0002},{"s":"25.3 µs","x":685,"y":0.0003},{"s":"25.3 µs","x":690,"y":0.0002},{"s":"25.3 µs","x":695,"y":0.0001},{"s":"25.3 µs","x":700,"y":0.0},{"s":"25.3 µs","x":705,"y":0.0002},{"s":"25.3 µs","x":710,"y":0.0002},{"s":"25.3 µs","x":715,"y":-0.0002},{"s":"25.3 µs","x":720,"y":0.0001},{"s":"25.3 µs","x":725,"y":0.0002},{"s":"25.3 µs","x":730,"y":-0.0001},{"s":"25.3 µs","x":735,"y":0.0},{"s":"25.3 µs","x":740,"y":0.0001},{"s":"25.3 µs","x":745,"y":0.0005},{"s":"25.3 µs","x":750,"y":0.0002},{"s":"25.3 µs","x":755,"y":0.0001},{"s":"25.3 µs","x":760,"y":0.0},{"s":"25.3 µs","x":765,"y":0.0001},{"s":"25.3 µs","x":770,"y":-0.0001},{"s":"25.3 µs","x":775,"y":0.0001},{"s":"25.3 µs","x":780,"y":0.0},{"s":"25.3 µs","x":785,"y":0.0002},{"s":"25.3 µs","x":790,"y":0.0004},{"s":"25.3 µs","x":795,"y":0.0005},{"s":"25.3 µs","x":800,"y":0.0003},
      {"s":"70.9 µs","x":400,"y":0.0004},{"s":"70.9 µs","x":403,"y":0.0002},{"s":"70.9 µs","x":405,"y":0.0},{"s":"70.9 µs","x":408,"y":-0.0002},{"s":"70.9 µs","x":410,"y":-0.0003},{"s":"70.9 µs","x":413,"y":0.0},{"s":"70.9 µs","x":415,"y":0.0001},{"s":"70.9 µs","x":420,"y":0.0003},{"s":"70.9 µs","x":425,"y":0.0002},{"s":"70.9 µs","x":430,"y":0.0001},{"s":"70.9 µs","x":435,"y":0.0002},{"s":"70.9 µs","x":440,"y":0.0002},{"s":"70.9 µs","x":445,"y":0.0003},{"s":"70.9 µs","x":450,"y":0.0003},{"s":"70.9 µs","x":455,"y":0.0004},{"s":"70.9 µs","x":460,"y":0.0003},{"s":"70.9 µs","x":463.9,"y":0.0005},{"s":"70.9 µs","x":469.4,"y":0.00066},{"s":"70.9 µs","x":472.8,"y":0.0003},{"s":"70.9 µs","x":476.1,"y":0.00003},{"s":"70.9 µs","x":479.4,"y":0.0003},{"s":"70.9 µs","x":482.7,"y":0.00003},{"s":"70.9 µs","x":486,"y":-0.00002},{"s":"70.9 µs","x":489.4,"y":-0.0002},{"s":"70.9 µs","x":492.7,"y":-0.0004},{"s":"70.9 µs","x":496,"y":-0.00037},{"s":"70.9 µs","x":499.4,"y":-0.00054},{"s":"70.9 µs","x":502.7,"y":-0.0007},{"s":"70.9 µs","x":504.9,"y":-0.00088},{"s":"70.9 µs","x":508.2,"y":-0.0011},{"s":"70.9 µs","x":511.5,"y":-0.0012},{"s":"70.9 µs","x":514.9,"y":-0.0013},{"s":"70.9 µs","x":518.2,"y":-0.00145},{"s":"70.9 µs","x":521.5,"y":-0.00175},{"s":"70.9 µs","x":524.8,"y":-0.0021},{"s":"70.9 µs","x":528.2,"y":-0.0026},{"s":"70.9 µs","x":531.5,"y":-0.0029},{"s":"70.9 µs","x":533.7,"y":-0.0027},{"s":"70.9 µs","x":535.9,"y":-0.0026},{"s":"70.9 µs","x":538.1,"y":-0.0028},{"s":"70.9 µs","x":540.4,"y":-0.0026},{"s":"70.9 µs","x":543.7,"y":-0.00225},{"s":"70.9 µs","x":547,"y":-0.00185},{"s":"70.9 µs","x":550.3,"y":-0.0013},{"s":"70.9 µs","x":552.5,"y":-0.001},{"s":"70.9 µs","x":554.8,"y":-0.00065},{"s":"70.9 µs","x":558.1,"y":-0.00025},{"s":"70.9 µs","x":561.4,"y":0.00003},{"s":"70.9 µs","x":565.8,"y":0.00015},{"s":"70.9 µs","x":570.3,"y":0.00026},{"s":"70.9 µs","x":574.7,"y":0.00038},{"s":"70.9 µs","x":578,"y":0.0006},{"s":"70.9 µs","x":580.2,"y":0.0009},{"s":"70.9 µs","x":583.6,"y":0.00038},{"s":"70.9 µs","x":586.9,"y":0.00066},{"s":"70.9 µs","x":591.3,"y":0.00055},{"s":"70.9 µs","x":595.8,"y":0.00043},{"s":"70.9 µs","x":600,"y":0.0004},{"s":"70.9 µs","x":605,"y":0.0006},{"s":"70.9 µs","x":610,"y":0.0005},{"s":"70.9 µs","x":615,"y":0.0004},{"s":"70.9 µs","x":620,"y":0.0004},{"s":"70.9 µs","x":625,"y":0.0003},{"s":"70.9 µs","x":630,"y":0.0003},{"s":"70.9 µs","x":635,"y":0.0004},{"s":"70.9 µs","x":640,"y":0.0004},{"s":"70.9 µs","x":645,"y":0.0005},{"s":"70.9 µs","x":650,"y":0.0005},{"s":"70.9 µs","x":655,"y":0.0003},{"s":"70.9 µs","x":660,"y":0.0002},{"s":"70.9 µs","x":665,"y":0.0003},{"s":"70.9 µs","x":670,"y":0.0003},{"s":"70.9 µs","x":675,"y":0.0002},{"s":"70.9 µs","x":680,"y":0.0002},{"s":"70.9 µs","x":685,"y":0.0001},{"s":"70.9 µs","x":690,"y":0.0},{"s":"70.9 µs","x":695,"y":0.0002},{"s":"70.9 µs","x":700,"y":0.0003},{"s":"70.9 µs","x":705,"y":0.0002},{"s":"70.9 µs","x":710,"y":0.0002},{"s":"70.9 µs","x":715,"y":0.0003},{"s":"70.9 µs","x":720,"y":0.0004},{"s":"70.9 µs","x":725,"y":0.0001},{"s":"70.9 µs","x":730,"y":0.0},{"s":"70.9 µs","x":735,"y":0.0002},{"s":"70.9 µs","x":740,"y":0.0003},{"s":"70.9 µs","x":745,"y":0.0001},{"s":"70.9 µs","x":750,"y":0.0002},{"s":"70.9 µs","x":755,"y":0.0006},{"s":"70.9 µs","x":760,"y":0.0001},{"s":"70.9 µs","x":765,"y":0.0004},{"s":"70.9 µs","x":770,"y":0.0003},{"s":"70.9 µs","x":775,"y":-0.0005},{"s":"70.9 µs","x":778,"y":0.0002},{"s":"70.9 µs","x":780,"y":0.0006},{"s":"70.9 µs","x":785,"y":0.0003},{"s":"70.9 µs","x":790,"y":0.0001},{"s":"70.9 µs","x":795,"y":0.0003},{"s":"70.9 µs","x":800,"y":0.0002},
      {"s":"166.0 µs","x":400,"y":0.0002},{"s":"166.0 µs","x":405,"y":-0.0002},{"s":"166.0 µs","x":410,"y":0.0},{"s":"166.0 µs","x":415,"y":0.0002},{"s":"166.0 µs","x":420,"y":0.0001},{"s":"166.0 µs","x":425,"y":0.0002},{"s":"166.0 µs","x":430,"y":0.0002},{"s":"166.0 µs","x":435,"y":0.0001},{"s":"166.0 µs","x":440,"y":0.0},{"s":"166.0 µs","x":445,"y":0.0002},{"s":"166.0 µs","x":450,"y":0.0003},{"s":"166.0 µs","x":455,"y":0.0002},{"s":"166.0 µs","x":460,"y":0.0001},{"s":"166.0 µs","x":463.9,"y":0.00003},{"s":"166.0 µs","x":468.3,"y":0.00015},{"s":"166.0 µs","x":472.8,"y":0.0002},{"s":"166.0 µs","x":477.2,"y":0.00015},{"s":"166.0 µs","x":481.6,"y":0.0001},{"s":"166.0 µs","x":486,"y":0.00003},{"s":"166.0 µs","x":490.5,"y":-0.00025},{"s":"166.0 µs","x":494.9,"y":-0.0003},{"s":"166.0 µs","x":498.3,"y":-0.0002},{"s":"166.0 µs","x":501.6,"y":-0.00048},{"s":"166.0 µs","x":504.9,"y":-0.00065},{"s":"166.0 µs","x":508.2,"y":-0.00077},{"s":"166.0 µs","x":510.4,"y":-0.00054},{"s":"166.0 µs","x":513.8,"y":-0.00082},{"s":"166.0 µs","x":518.2,"y":-0.00105},{"s":"166.0 µs","x":521.5,"y":-0.0012},{"s":"166.0 µs","x":524.8,"y":-0.0016},{"s":"166.0 µs","x":528.2,"y":-0.0018},{"s":"166.0 µs","x":530.4,"y":-0.0021},{"s":"166.0 µs","x":532.6,"y":-0.0019},{"s":"166.0 µs","x":534.8,"y":-0.0019},{"s":"166.0 µs","x":537,"y":-0.0017},{"s":"166.0 µs","x":540.4,"y":-0.0015},{"s":"166.0 µs","x":543.7,"y":-0.0013},{"s":"166.0 µs","x":547,"y":-0.0011},{"s":"166.0 µs","x":550.3,"y":-0.00077},{"s":"166.0 µs","x":553.6,"y":-0.0004},{"s":"166.0 µs","x":557,"y":-0.00025},{"s":"166.0 µs","x":560.3,"y":0.00015},{"s":"166.0 µs","x":563.6,"y":0.00026},{"s":"166.0 µs","x":566.9,"y":0.0001},{"s":"166.0 µs","x":570.3,"y":0.00015},{"s":"166.0 µs","x":574.7,"y":0.0001},{"s":"166.0 µs","x":578,"y":0.00026},{"s":"166.0 µs","x":581.3,"y":0.0005},{"s":"166.0 µs","x":584.7,"y":0.0002},{"s":"166.0 µs","x":588,"y":0.00038},{"s":"166.0 µs","x":591.3,"y":0.00026},{"s":"166.0 µs","x":594.6,"y":0.0001},{"s":"166.0 µs","x":600,"y":-0.0001},{"s":"166.0 µs","x":605,"y":0.0001},{"s":"166.0 µs","x":610,"y":0.0},{"s":"166.0 µs","x":615,"y":0.0001},{"s":"166.0 µs","x":620,"y":0.0002},{"s":"166.0 µs","x":625,"y":0.0002},{"s":"166.0 µs","x":630,"y":0.0001},{"s":"166.0 µs","x":635,"y":0.0002},{"s":"166.0 µs","x":640,"y":0.0},{"s":"166.0 µs","x":645,"y":0.0001},{"s":"166.0 µs","x":650,"y":0.0001},{"s":"166.0 µs","x":655,"y":0.0},{"s":"166.0 µs","x":660,"y":0.0002},{"s":"166.0 µs","x":665,"y":0.0002},{"s":"166.0 µs","x":670,"y":0.0003},{"s":"166.0 µs","x":675,"y":0.0001},{"s":"166.0 µs","x":680,"y":-0.0001},{"s":"166.0 µs","x":685,"y":0.0001},{"s":"166.0 µs","x":690,"y":0.0},{"s":"166.0 µs","x":697,"y":-0.0004},{"s":"166.0 µs","x":700,"y":0.0},{"s":"166.0 µs","x":705,"y":0.0001},{"s":"166.0 µs","x":710,"y":0.0002},{"s":"166.0 µs","x":715,"y":0.0001},{"s":"166.0 µs","x":720,"y":0.0001},{"s":"166.0 µs","x":725,"y":0.0},{"s":"166.0 µs","x":730,"y":0.0},{"s":"166.0 µs","x":735,"y":0.0003},{"s":"166.0 µs","x":740,"y":0.0},{"s":"166.0 µs","x":745,"y":0.0001},{"s":"166.0 µs","x":750,"y":0.0001},{"s":"166.0 µs","x":755,"y":0.0},{"s":"166.0 µs","x":760,"y":0.0002},{"s":"166.0 µs","x":765,"y":0.0},{"s":"166.0 µs","x":770,"y":0.0001},{"s":"166.0 µs","x":775,"y":0.0},{"s":"166.0 µs","x":780,"y":-0.0004},{"s":"166.0 µs","x":785,"y":0.0002},{"s":"166.0 µs","x":790,"y":0.0},{"s":"166.0 µs","x":795,"y":0.0001},{"s":"166.0 µs","x":800,"y":0.0002}
    ],
    "B": [
      {"t":0,"y":0.0018},{"t":0.7,"y":0.0025},{"t":1.4,"y":0.0016},{"t":2.1,"y":0.0023},{"t":2.8,"y":0.0013},{"t":3.5,"y":0.0022},{"t":4.2,"y":0.0015},{"t":4.9,"y":0.0024},{"t":5.6,"y":0.0012},{"t":6.3,"y":0.0021},{"t":7,"y":0.0016},{"t":7.7,"y":0.0023},{"t":8.4,"y":0.0014},{"t":9.1,"y":0.002},{"t":9.8,"y":0.0013},{"t":10.5,"y":0.0022},{"t":11.2,"y":0.0015},{"t":11.9,"y":0.0019},{"t":12.6,"y":0.0013},{"t":13.3,"y":0.0021},{"t":14,"y":0.0016},{"t":14.7,"y":0.0022},{"t":15.4,"y":0.0012},{"t":16.1,"y":0.0018},{"t":16.8,"y":0.0014},{"t":17.5,"y":0.0021},{"t":18.2,"y":0.0015},{"t":18.9,"y":0.0019},{"t":19.6,"y":0.0013},{"t":20.3,"y":0.0018},{"t":21,"y":0.0014},{"t":22,"y":0.002},{"t":23,"y":0.0013},{"t":24,"y":0.0017},{"t":25,"y":0.0014},{"t":26,"y":0.0019},{"t":27,"y":0.0012},{"t":28,"y":0.0018},{"t":29,"y":0.0013},{"t":30,"y":0.0017},{"t":31,"y":0.0011},{"t":32,"y":0.0016},{"t":33,"y":0.0012},{"t":34,"y":0.0018},{"t":35,"y":0.0011},{"t":36,"y":0.0015},{"t":37,"y":0.0012},{"t":38,"y":0.0016},{"t":39,"y":0.001},{"t":40,"y":0.0015},{"t":41,"y":0.0011},{"t":42,"y":0.0017},{"t":43,"y":0.001},{"t":44,"y":0.0014},{"t":45,"y":0.0009},{"t":46,"y":0.0015},{"t":47,"y":0.0011},{"t":48,"y":0.0013},{"t":49,"y":0.0009},{"t":50,"y":0.0015},{"t":51.5,"y":0.001},{"t":53,"y":0.0014},{"t":54.5,"y":0.0009},{"t":56,"y":0.0013},{"t":57.5,"y":0.001},{"t":59,"y":0.0014},{"t":60.5,"y":0.0008},{"t":62,"y":0.0012},{"t":63.5,"y":0.0009},{"t":65,"y":0.0013},{"t":66.5,"y":0.0008},{"t":68,"y":0.0012},{"t":69.5,"y":0.0009},{"t":71,"y":0.0011},{"t":72.5,"y":0.0007},{"t":74,"y":0.0012},{"t":75.5,"y":0.0008},{"t":77,"y":0.0011},{"t":78.5,"y":0.0007},{"t":80,"y":0.001},{"t":81.5,"y":0.00045},{"t":83,"y":0.0009},{"t":84.5,"y":0.0007},{"t":86,"y":0.001},{"t":87.5,"y":0.0007},{"t":89,"y":0.0009},{"t":91,"y":0.0003},{"t":92.5,"y":0.001},{"t":93.5,"y":0.00055},{"t":95,"y":0.0009},{"t":96.5,"y":0.0006},{"t":98,"y":0.0008},{"t":100,"y":0.0007},{"t":102,"y":0.0005},{"t":104,"y":0.0008},{"t":106,"y":0.0004},{"t":108,"y":0.0007},{"t":110,"y":0.0005},{"t":112,"y":0.0008},{"t":113.5,"y":0.0006},{"t":115,"y":0.0009},{"t":117,"y":0.0004},{"t":119,"y":0.0007},{"t":121,"y":0.00065},{"t":123,"y":0.0004},{"t":125,"y":0.00063},{"t":127,"y":0.0003},{"t":129,"y":0.0006},{"t":131,"y":0.0004},{"t":133,"y":0.00007},{"t":135,"y":0.00059},{"t":137,"y":0.0003},{"t":139,"y":0.0006},{"t":141,"y":0.0002},{"t":143,"y":0.0005},{"t":145,"y":0.0003},{"t":147,"y":0.0006},{"t":149,"y":0.0002},{"t":151,"y":0.00103},{"t":153,"y":0.0004},{"t":155,"y":0.0003},{"t":157,"y":0.0005},{"t":159,"y":0.0002},{"t":161,"y":0.0004},{"t":163,"y":0.0001},{"t":165,"y":0.0004},{"t":167,"y":-0.00011},{"t":169,"y":0.0003},{"t":171,"y":0.00047},{"t":173,"y":0.0002},{"t":175,"y":0.0004},{"t":177,"y":0.0001},{"t":179,"y":0.0003},{"t":181,"y":0.0002},{"t":183,"y":0.00042},{"t":185,"y":0.0001},{"t":187,"y":0.0003},{"t":190,"y":0.0006},{"t":193,"y":0.0002},{"t":195,"y":-0.0001},{"t":198,"y":0.0003},{"t":200,"y":0.00031},{"t":203,"y":0.0002},{"t":206,"y":0.00031},{"t":209,"y":0.0002},{"t":212,"y":0.00034},{"t":215,"y":0.0002},{"t":218,"y":0.00018},{"t":221,"y":0.0003},{"t":224,"y":0.0002},{"t":227,"y":0.00033},{"t":230,"y":0.0001},{"t":233,"y":0.0003},{"t":236,"y":0.0002},{"t":240,"y":0.00035},{"t":243,"y":0.00047},{"t":246,"y":0.0001},{"t":249,"y":0.0002},{"t":252,"y":0.00008},{"t":255,"y":0.0002},{"t":258,"y":0.0001},{"t":262,"y":0.00028},{"t":265,"y":0.0001},{"t":268,"y":0.0002},{"t":271,"y":0.00005},{"t":274,"y":0.0002},{"t":277,"y":0.00021},{"t":280,"y":0.0001},{"t":283,"y":0.0003},{"t":286,"y":0.0},{"t":289,"y":0.00015},{"t":292,"y":-0.00002},{"t":295,"y":0.0002},{"t":299,"y":0.0001},{"t":302,"y":0.00015},{"t":305,"y":0.0002},{"t":308,"y":0.0},{"t":312,"y":-0.00028},{"t":315,"y":0.0001},{"t":318,"y":0.00028},{"t":321,"y":0.0},{"t":324,"y":0.0002},{"t":327,"y":-0.0002},{"t":330,"y":0.0001},{"t":333,"y":0.00028},{"t":336,"y":0.0},{"t":339,"y":0.0002},{"t":342,"y":0.0001},{"t":346,"y":-0.00039},{"t":349,"y":0.0001},{"t":352,"y":0.00008},{"t":355,"y":0.0002},{"t":358,"y":0.0},{"t":361,"y":0.00015},{"t":364,"y":-0.0001},{"t":367,"y":0.0001},{"t":370,"y":0.0},{"t":374,"y":-0.00002},{"t":377,"y":0.0002},{"t":380,"y":0.0001},{"t":383,"y":0.00021},{"t":386,"y":0.0},{"t":389,"y":0.0001},{"t":392,"y":-0.00005},{"t":395,"y":0.0001},{"t":398,"y":-0.00011},{"t":401,"y":0.0001},{"t":404,"y":-0.0002},{"t":407,"y":0.0001},{"t":410,"y":0.0},{"t":414,"y":0.00028},{"t":417,"y":0.0},{"t":420,"y":0.0001},{"t":424,"y":0.00005},{"t":427,"y":-0.0001},{"t":430,"y":0.00011},{"t":433,"y":0.0},{"t":436,"y":-0.00015},{"t":439,"y":0.0001},{"t":442,"y":-0.00005},{"t":445,"y":-0.00003}
    ],
    "Bfit": [
      {"t":0,"y":0.00191},{"t":10,"y":0.00174},{"t":20,"y":0.00159},{"t":30,"y":0.00145},{"t":40,"y":0.00132},{"t":50,"y":0.0012},{"t":60,"y":0.00109},{"t":75,"y":0.00095},{"t":90,"y":0.00082},{"t":105,"y":0.00072},{"t":120,"y":0.00062},{"t":135,"y":0.00054},{"t":150,"y":0.00047},{"t":175,"y":0.00037},{"t":200,"y":0.00029},{"t":225,"y":0.00022},{"t":250,"y":0.00017},{"t":275,"y":0.00013},{"t":300,"y":0.0001},{"t":325,"y":0.000078},{"t":350,"y":0.000058},{"t":375,"y":0.000042},{"t":400,"y":0.000029},{"t":425,"y":0.000019},{"t":445,"y":0.000012}
    ],
    "D": [
      {"t":0,"y":-0.00015},{"t":0.3,"y":0.0006},{"t":1.9,"y":0.0006},{"t":3.1,"y":0.00017},{"t":4.4,"y":0.0006},{"t":5.6,"y":0.00028},{"t":6.9,"y":0.0006},{"t":8.1,"y":0.00016},{"t":9.4,"y":0.00006},{"t":10.6,"y":0.00055},{"t":11.9,"y":0.00035},{"t":13.1,"y":0.00051},{"t":14.4,"y":0.00021},{"t":15.6,"y":0.00039},{"t":16.9,"y":0.00054},{"t":18.1,"y":0.00026},{"t":20,"y":0.00041},{"t":21.9,"y":0.0002},{"t":23.1,"y":0.00046},{"t":25,"y":0.00026},{"t":26.8,"y":0.00042},{"t":28.7,"y":0.00023},{"t":30.6,"y":0.00045},{"t":32.5,"y":0.00021},{"t":34.3,"y":0.00003},{"t":36.2,"y":0.00035},{"t":38.1,"y":0.00041},{"t":40,"y":0.0003},{"t":41.8,"y":0.0005},{"t":43.7,"y":0.00038},{"t":46.2,"y":0.00051},{"t":48,"y":0.00029},{"t":49.3,"y":0.00042},{"t":51.2,"y":0.0006},{"t":52.4,"y":0.0006},{"t":57,"y":0.00026},{"t":62,"y":0.00022},{"t":67,"y":0.00043},{"t":70,"y":0.00037},{"t":73,"y":0.00044},{"t":76,"y":0.00032},{"t":80.5,"y":0.00039},{"t":84,"y":0.00025},{"t":87,"y":0.00037},{"t":90,"y":0.00027},{"t":94,"y":0.00036},{"t":98,"y":0.00038},{"t":101,"y":0.00015},{"t":105.5,"y":0.00028},{"t":110,"y":0.00024},{"t":115,"y":0.00028},{"t":120,"y":0.00015},{"t":127.3,"y":0.00045},{"t":135,"y":0.00032},{"t":138.6,"y":0.00006},{"t":143,"y":0.00009},{"t":148,"y":0.00015},{"t":152,"y":0.00002},{"t":159,"y":0.00028},{"t":164,"y":0.00008},{"t":169,"y":0.00006},{"t":175.4,"y":0.00005},{"t":184,"y":0.00031},{"t":193,"y":0.00007},{"t":200.4,"y":0.0},{"t":206.6,"y":0.00026},{"t":211.6,"y":0.00016},{"t":220,"y":0.00041},{"t":227,"y":0.00015},{"t":235.3,"y":0.00035},{"t":243,"y":0.00016},{"t":252,"y":0.0003},{"t":261.5,"y":0.00008},{"t":266,"y":0.00009},{"t":271,"y":0.00006},{"t":283.4,"y":0.00015},{"t":294.6,"y":0.00008},{"t":302,"y":0.00012},{"t":310.2,"y":0.00028},{"t":319,"y":0.00008},{"t":329,"y":0.00013},{"t":336.5,"y":0.00008},{"t":344,"y":-0.00002},{"t":355.2,"y":0.00011},{"t":363.3,"y":0.00006},{"t":372.7,"y":-0.00011},{"t":381.4,"y":0.00002},{"t":391.4,"y":0.00003},{"t":398.9,"y":0.00002},{"t":406.4,"y":0.00007},{"t":417.6,"y":-0.00001},{"t":427.6,"y":0.00002},{"t":439.4,"y":-0.00011}
    ],
    "Dfit": [
      {"t":0,"y":0.0},{"t":0,"y":0.00042},{"t":25,"y":0.000375},{"t":50,"y":0.000335},{"t":75,"y":0.000298},{"t":100,"y":0.000266},{"t":125,"y":0.000236},{"t":150,"y":0.000209},{"t":175,"y":0.000185},{"t":200,"y":0.000163},{"t":225,"y":0.000143},{"t":250,"y":0.000125},{"t":275,"y":0.000109},{"t":300,"y":0.0000945},{"t":325,"y":0.0000813},{"t":350,"y":0.0000695},{"t":375,"y":0.0000588},{"t":400,"y":0.0000491},{"t":425,"y":0.0000404},{"t":440,"y":0.0000355}
    ]
  },
  "concat": [
    {
      "width": 601, "height": 306,
      "title": {"text": "(A)", "dx": -39},
      "layer": [
        {
          "data": {"name": "A"},
          "mark": {"type": "line", "strokeWidth": 1.1},
          "encoding": {
            "x": {"field": "x", "type": "quantitative", "scale": {"domain": [400, 800], "nice": false, "zero": false},
                  "axis": {"title": "Wavelength /nm", "values": [400,450,500,550,600,650,700,750,800], "labelExpr": "datum.value % 100 == 0 ? datum.label : ''", "tickSize": {"condition": {"test": "datum.value % 100 == 0", "value": 8}, "value": 4}, "labelPadding": 6, "titlePadding": 11}},
            "y": {"field": "y", "type": "quantitative", "scale": {"domain": [-0.019, 0.0075], "nice": false, "zero": false},
                  "axis": {"title": "ΔA (OD)", "values": [-0.0175,-0.015,-0.0125,-0.01,-0.0075,-0.005,-0.0025,0,0.0025,0.005], "format": ".3f", "labelExpr": "abs(datum.value*200-round(datum.value*200))<0.01 ? datum.label : ''", "tickSize": {"condition": {"test": "abs(datum.value*200-round(datum.value*200))<0.01", "value": 6}, "value": 4}, "labelPadding": 6, "titlePadding": 4}},
            "color": {"field": "s", "type": "nominal",
                      "scale": {"domain": ["9.35 µs", "25.3 µs", "70.9 µs", "166.0 µs"], "range": ["#1414FF", "#8E1414", "#D2307F", "#5E9E5E"]},
                      "legend": {"title": null, "orient": "none", "legendX": 276, "legendY": 203}}
          }
        },
        {
          "data": {"values": [{}]},
          "mark": {"type": "text", "text": "RB", "align": "left", "baseline": "alphabetic", "fontSize": 23, "color": "#000"},
          "encoding": {"x": {"datum": 410.7, "type": "quantitative"}, "y": {"datum": 0.0049, "type": "quantitative"}}
        }
      ]
    },
    {
      "width": 240, "height": 306,
      "title": {"text": "(B)", "dx": -45},
      "layer": [
        {
          "data": {"name": "B"},
          "mark": {"type": "line", "strokeWidth": 1, "color": "#000", "clip": true},
          "encoding": {
            "x": {"field": "t", "type": "quantitative", "scale": {"domain": [0, 450], "nice": false, "zero": false},
                  "axis": {"title": "Time/ µs", "values": [0,75,150,225,300,375,450], "labelExpr": "datum.value % 150 == 0 ? datum.label : ''", "tickSize": {"condition": {"test": "datum.value % 150 == 0", "value": 5}, "value": 3}, "labelPadding": 5, "titlePadding": 13}},
            "y": {"field": "y", "type": "quantitative", "scale": {"domain": [-0.0005, 0.0025], "nice": false, "zero": false},
                  "axis": {"title": null, "values": [0,0.0005,0.001,0.0015,0.002], "format": ".3f", "labelFontSize": 16, "labelExpr": "abs(datum.value*1000-round(datum.value*1000))<0.01 ? datum.label : ''", "tickSize": {"condition": {"test": "abs(datum.value*1000-round(datum.value*1000))<0.01", "value": 5}, "value": 3}, "labelPadding": 11}}
          }
        },
        {
          "data": {"name": "Bfit"},
          "mark": {"type": "line", "strokeWidth": 1.2, "color": "#FF0000", "clip": true},
          "encoding": {"x": {"field": "t", "type": "quantitative"}, "y": {"field": "y", "type": "quantitative"}}
        },
        {
          "data": {"values": [{}]},
          "mark": {"type": "text", "text": "RB: 108.9 µs", "align": "left", "baseline": "alphabetic", "fontSize": 23, "color": "#000"},
          "encoding": {"x": {"datum": 138.4, "type": "quantitative"}, "y": {"datum": 0.00217, "type": "quantitative"}}
        }
      ]
    },
    {
      "width": 601, "height": 306,
      "title": {"text": "(C)", "dx": -41},
      "layer": [
        {
          "data": {"name": "C"},
          "mark": {"type": "line", "strokeWidth": 1.1},
          "encoding": {
            "x": {"field": "x", "type": "quantitative", "scale": {"domain": [400, 800], "nice": false, "zero": false},
                  "axis": {"title": "Wavelength /nm", "values": [400,450,500,550,600,650,700,750,800], "labelExpr": "datum.value % 100 == 0 ? datum.label : ''", "tickSize": {"condition": {"test": "datum.value % 100 == 0", "value": 8}, "value": 4}, "labelPadding": 6, "titlePadding": 12}},
            "y": {"field": "y", "type": "quantitative", "scale": {"domain": [-0.0075, 0.003], "nice": false, "zero": false},
                  "axis": {"title": "ΔA (OD)", "values": [-0.007,-0.006,-0.005,-0.004,-0.003,-0.002,-0.001,0,0.001,0.002], "format": ".3f", "labelExpr": "abs(datum.value*500-round(datum.value*500))<0.01 ? datum.label : ''", "tickSize": {"condition": {"test": "abs(datum.value*500-round(datum.value*500))<0.01", "value": 6}, "value": 4}, "labelPadding": 6, "titlePadding": 4}},
            "color": {"field": "s", "type": "nominal",
                      "scale": {"domain": ["9.35 µs", "25.3 µs", "70.9 µs", "166.0 µs"], "range": ["#1414FF", "#8E1414", "#D2307F", "#5E9E5E"]},
                      "legend": {"title": null, "orient": "none", "legendX": 268, "legendY": 200}}
          }
        },
        {
          "data": {"values": [{}]},
          "mark": {"type": "text", "text": "RB CPNs", "align": "left", "baseline": "alphabetic", "fontSize": 23, "color": "#1414FF"},
          "encoding": {"x": {"datum": 412, "type": "quantitative"}, "y": {"datum": 0.00196, "type": "quantitative"}}
        }
      ]
    },
    {
      "width": 240, "height": 306,
      "title": {"text": "(D)", "dx": -39, "dy": 15},
      "layer": [
        {
          "data": {"name": "D"},
          "mark": {"type": "line", "strokeWidth": 1.1, "color": "#1414FF", "clip": true, "interpolate": "monotone"},
          "encoding": {
            "x": {"field": "t", "type": "quantitative", "scale": {"domain": [0, 450], "nice": false, "zero": false},
                  "axis": {"title": "Time/ µs", "values": [0,75,150,225,300,375,450], "labelExpr": "datum.value % 150 == 0 ? datum.label : ''", "tickSize": {"condition": {"test": "datum.value % 150 == 0", "value": 5}, "value": 3}, "labelPadding": 5, "titlePadding": 13}},
            "y": {"field": "y", "type": "quantitative", "scale": {"domain": [-0.0001, 0.00055], "nice": false, "zero": false},
                  "axis": {"title": null, "values": [0,0.0001,0.0002,0.0003,0.0004,0.0005], "format": ".4f", "labelExpr": "abs(datum.value*5000-round(datum.value*5000))<0.01 ? datum.label : ''", "tickSize": {"condition": {"test": "abs(datum.value*5000-round(datum.value*5000))<0.01", "value": 5}, "value": 3}, "labelPadding": 4}}
          }
        },
        {
          "data": {"name": "Dfit"},
          "mark": {"type": "line", "strokeWidth": 1.2, "color": "#FF0000", "clip": true},
          "encoding": {"x": {"field": "t", "type": "quantitative"}, "y": {"field": "y", "type": "quantitative"}}
        },
        {
          "data": {"values": [{}]},
          "mark": {"type": "text", "text": "RB CPNs:\u00a0 245 µs", "align": "left", "baseline": "alphabetic", "fontSize": 23, "color": "#1414FF"},
          "encoding": {"x": {"datum": 69.3, "type": "quantitative"}, "y": {"datum": 0.000467, "type": "quantitative"}}
        }
      ]
    }
  ]
}
